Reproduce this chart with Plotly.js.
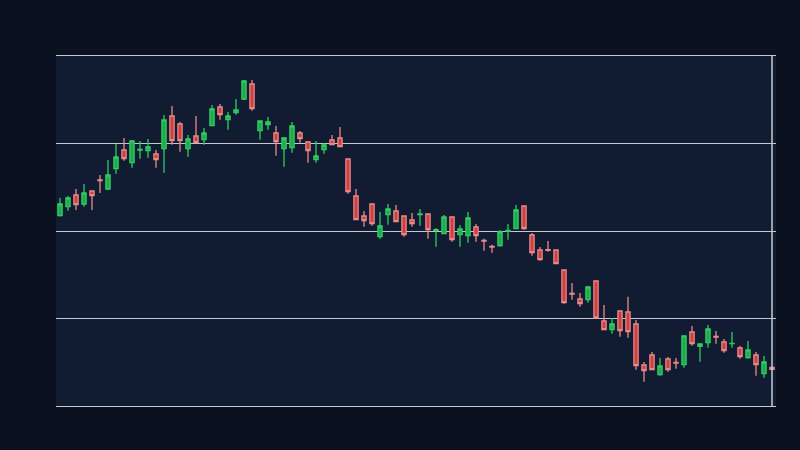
<!DOCTYPE html>
<html>
<head>
<meta charset="utf-8">
<script src="https://cdn.plot.ly/plotly-3.0.1.min.js"></script>
<style>html,body{margin:0;padding:0;background:#0b1120;}#chart{width:800px;height:450px;}</style>
</head>
<body>
<div id="chart"></div>
<script>
const days = Array.from({length: 90}, (_, i) => i);
const openP = [39.03,39.93,41.10,40.20,41.50,42.60,41.70,43.73,45.60,44.33,45.60,45.53,45.20,45.73,49.00,48.20,45.73,47.00,46.63,48.03,
49.90,48.63,49.33,50.70,52.20,47.53,48.13,47.30,45.73,45.83,47.30,46.40,44.63,45.63,46.60,46.80,44.70,41.00,39.00,40.20,
36.93,39.13,39.50,39.00,38.60,39.15,39.20,37.57,37.23,38.90,37.13,37.03,37.90,36.55,35.95,36.03,37.50,37.73,40.00,37.10,
35.60,35.63,35.60,33.60,31.25,30.70,30.63,32.50,28.50,27.63,29.50,29.40,28.20,24.10,25.10,23.13,24.70,24.35,24.13,27.40,
25.97,26.33,26.95,26.40,26.23,25.80,24.83,25.10,23.23,23.87];
const highP = [40.80,41.00,41.70,42.20,41.55,43.10,44.60,46.20,46.80,46.60,46.50,46.70,45.60,49.10,50.00,48.40,47.10,49.00,47.80,50.10,
50.20,49.40,50.70,52.60,52.60,48.50,48.90,48.00,46.90,48.40,47.50,46.50,46.50,46.30,47.10,47.90,44.70,41.70,39.50,40.20,
39.40,40.20,40.10,39.00,39.30,39.70,39.20,37.80,39.10,38.90,38.10,39.40,38.20,36.73,36.13,37.60,38.20,40.10,40.00,37.30,
35.90,36.50,35.60,33.60,32.30,31.30,32.00,32.50,30.10,28.80,29.50,30.93,28.60,24.40,25.40,24.80,24.90,24.80,27.10,28.00,
26.30,28.10,27.50,26.70,27.40,26.00,26.50,25.40,25.00,23.90];
const lowP = [38.95,39.53,39.60,39.93,39.60,41.30,41.60,43.23,44.53,43.83,44.73,44.83,43.83,43.33,46.13,45.43,44.93,46.33,46.13,48.03,
48.63,47.63,49.13,50.60,49.53,46.63,47.63,45.03,43.93,45.33,46.33,44.33,44.33,45.23,46.13,45.93,41.23,38.63,37.93,38.03,
36.73,38.13,38.43,36.93,37.93,38.03,36.73,35.93,37.23,36.43,35.93,36.33,36.43,35.53,35.33,35.93,36.63,37.73,37.63,35.03,
34.53,35.43,34.23,30.23,30.63,29.93,30.33,28.80,27.63,27.23,26.93,26.83,23.63,22.43,23.63,23.03,23.43,23.73,23.83,26.03,
24.43,25.83,26.23,25.33,25.83,24.73,24.73,23.03,22.83,23.63];
const closeP = [40.20,40.80,40.13,41.30,41.03,42.53,43.10,44.90,44.73,46.50,45.65,45.90,44.63,48.60,46.53,46.53,46.70,46.33,47.30,49.70,
49.13,49.00,49.60,52.50,49.73,48.50,48.40,46.43,46.80,48.00,46.73,45.53,45.00,46.10,46.13,45.93,41.43,38.63,38.53,38.23,
38.00,39.70,38.43,37.13,38.23,39.20,37.63,37.63,38.90,36.63,37.70,38.80,37.03,36.50,35.90,37.40,37.55,39.60,37.73,35.33,
34.63,35.57,34.23,30.33,31.20,30.23,31.90,28.80,27.63,28.20,27.53,27.43,24.03,23.53,23.63,24.00,23.63,24.30,27.00,26.23,
26.20,27.70,26.90,25.53,26.27,24.93,25.60,24.13,24.40,23.67];

const lastDay = days[days.length - 1];

const trace = {
  type: 'candlestick',
  x: days, open: openP, high: highP, low: lowP, close: closeP,
  increasing: {line: {color: '#2ecc62', width: 1.3}, fillcolor: '#21a94c'},
  decreasing: {line: {color: '#e98a8a', width: 1.3}, fillcolor: '#cf3d3d'},
  whiskerwidth: 0,
  hoverinfo: 'none'
};

const layout = {
  width: 800, height: 450,
  paper_bgcolor: '#0b1120',
  plot_bgcolor: '#111c33',
  margin: {l: 56, r: 24, t: 56, b: 44},
  showlegend: false,
  boxgap: 0.25,
  xaxis: {
    range: [-0.5, lastDay + 0.5],
    rangeslider: {visible: false},
    showgrid: false, zeroline: false, showticklabels: false, ticks: '',
    showline: true, mirror: true, linecolor: '#c4c8d0', linewidth: 1
  },
  yaxis: {
    range: [20, 55],
    tick0: 20, dtick: 8.75,
    showgrid: true, gridcolor: '#c4c8d0', gridwidth: 1,
    zeroline: false, showticklabels: false, ticks: ''
  },
  shapes: [{
    type: 'line', xref: 'x', yref: 'paper',
    x0: lastDay, x1: lastDay, y0: 0, y1: 1,
    line: {color: '#c8ccd4', width: 1.5}, layer: 'above'
  }]
};

Plotly.newPlot('chart', [trace], layout, {staticPlot: true, displayModeBar: false});
</script>
</body>
</html>
